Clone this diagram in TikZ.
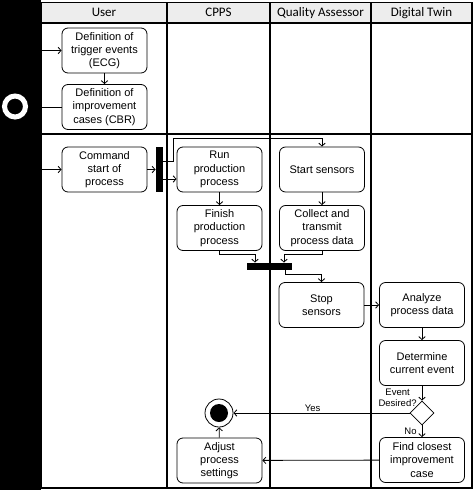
\documentclass[tikz,border=0pt]{standalone}
\usepackage{fontspec}
\setmainfont{Liberation Sans}
\newfontfamily\headfont{Carlito}
\usepackage{tikz}
\usetikzlibrary{arrows.meta}
\usetikzlibrary{positioning,shapes.geometric}

\tikzset{
	act/.style={draw,rounded corners=6pt,minimum width=85pt,minimum height=45pt,inner sep=1pt,align=center,font=\fontsize{11}{13.3}\selectfont},
	lanehead/.style={draw,line width=1.6pt,fill=gray!14,minimum height=20.5pt,inner sep=0pt,font=\headfont\fontsize{13}{15}\selectfont},
	syncbar/.style={fill=black,inner sep=0pt},
	guard/.style={inner sep=1pt,font=\fontsize{9.5}{11}\selectfont},
}

\begin{document}
\begin{tikzpicture}[>={Straight Barb[length=3pt,width=6.5pt]},thick,x=1pt,y=-1pt]
	\useasboundingbox (0,0) rectangle (474,490);
	\node[fill=black,inner sep=0pt,minimum width=41pt,minimum height=490pt,anchor=north west] (band) at (0,0) {};
	\node[circle,draw=white,line width=5pt,fill=black,minimum size=21pt,inner sep=0pt] (init) at (15,106.5) {};

	\node[lanehead,minimum width=126pt] (huser) at (104,12.75) {User};
	\node[lanehead,minimum width=103pt] (hcpps) at (218.5,12.75) {CPPS};
	\node[lanehead,minimum width=101pt] (hqa) at (320.5,12.75) {Quality Assessor};
	\node[lanehead,minimum width=101pt] (hdt) at (421.5,12.75) {Digital Twin};
	\draw[line width=1.6pt] (41,23) rectangle (472,134) (41,134) rectangle (472,488);
	\draw[line width=1.6pt] (167,23) -- (167,488) (270,23) -- (270,488) (371,23) -- (371,488);

	\node[act] (trig) at (104.5,50.5) {Definition of\\trigger events\\(ECG)};
	\node[act] (impr) at (104.5,107) {Definition of\\improvement\\cases (CBR)};
	\node[act] (cmd) at (104.5,169.5) {Command\\start of\\process};
	\node[syncbar,minimum width=7pt,minimum height=45pt] (fork) at (159.5,169.5) {};
	\node[act] (run) at (219.5,169.5) {Run\\production\\process};
	\node[act] (finish) at (219.5,228) {Finish\\production\\process};
	\node[act] (start) at (322,169.5) {Start sensors};
	\node[act] (collect) at (322,228) {Collect and\\transmit\\process data};
	\node[syncbar,minimum width=45pt,minimum height=7pt] (join) at (269.5,266.5) {};
	\node[act] (stop) at (321.5,305) {Stop\\sensors};
	\node[act] (analyze) at (422,305) {Analyze\\process data};
	\node[act] (determine) at (422,363) {Determine\\current event};
	\node[diamond,draw,aspect=1,minimum size=24pt,inner sep=0pt] (dec) at (422,413) {};
	\node[guard,align=center,anchor=south east] (ask) at ([xshift=-4pt,yshift=-7pt]dec.north) {Event\\Desired?};
	\node[act] (find) at (422,460) {Find closest\\improvement\\case};
	\node[act] (adjust) at (219.5,460.5) {Adjust\\process\\settings};
	\node[circle,draw,minimum size=28pt,inner sep=0pt] (final) at (219,413) {};
	\fill (final.center) circle (9pt);

	\draw[->] (band.east|-trig) -- (trig);
	\draw[->] (trig) -- (impr);
	\draw (impr) -- (band.east|-impr);
	\draw[->] (band.east|-cmd) -- (cmd);
	\draw[->] (cmd) -- (fork);
	\draw[->] ([yshift=-9.5pt]fork.east) -- ([yshift=-9.5pt]run.west);
	\draw[->] ([yshift=8.5pt]fork.east) -- ++(10pt,0) |- ([yshift=8pt]start.north) -- (start);
	\draw[->] (run) -- (finish);
	\draw[->] (start) -- (collect);
	\draw[->] (finish.south) -- ++(0,-3pt) -| ([xshift=-14.5pt]join.north);
	\draw[->] (collect.south) -- ++(0,-3pt) -| ([xshift=14.5pt]join.north);
	\draw[->] ([xshift=15.5pt]join.south) -- ++(0,-4pt) -| (stop);
	\draw[->] (stop) -- (analyze);
	\draw[->] (analyze) -- (determine);
	\draw[->] (determine) -- (dec);
	\draw[->] (dec) -- node[guard,above,pos=0.55]{Yes} (final);
	\draw[->] (dec) -- node[guard,left=4pt]{No} (find);
	\draw[->] (find) -- (adjust);
	\draw[->] (adjust) -- (final);
\end{tikzpicture}
\end{document}
